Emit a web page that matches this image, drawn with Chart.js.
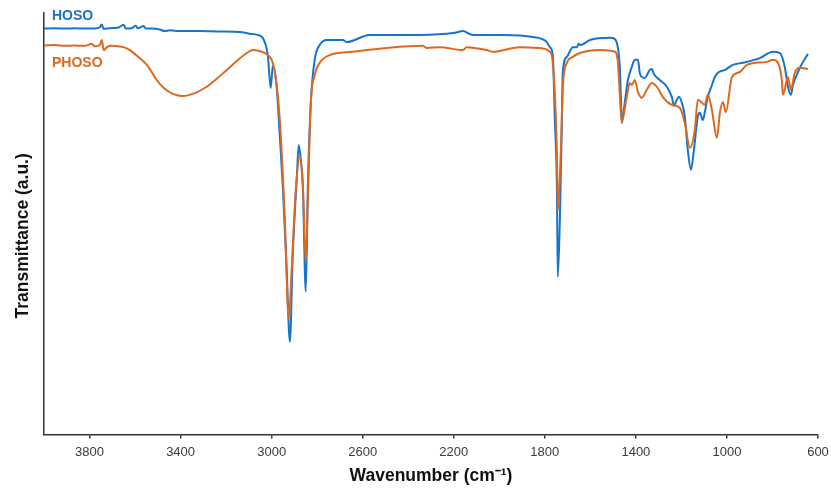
<!DOCTYPE html>
<html>
<head>
<meta charset="utf-8">
<script src="https://cdn.jsdelivr.net/npm/chart.js@4"></script>
<style>
  html, body { margin: 0; padding: 0; background: #fff; }
  #wrap { width: 831px; height: 489px; }
</style>
</head>
<body>
<div id="wrap"><canvas id="ftir"></canvas></div>
<script>
// wavenumber ticks
const xTicks = [3800, 3400, 3000, 2600, 2200, 1800, 1400, 1000, 600];

// HOSO
const hosoWn = [4000, 3953, 3909, 3865, 3821, 3777, 3755, 3746, 3738, 3711, 3676, 3650, 3641, 3615, 3597, 3588, 3562, 3553, 3527, 3492,
  3470, 3448, 3404, 3316, 3228, 3140, 3096, 3061, 3039, 3026, 3017, 3004, 2995, 2978, 2964, 2951, 2934, 2920, 2907, 2890,
  2881, 2872, 2863, 2850, 2841, 2828, 2811, 2789, 2758, 2688, 2670, 2569, 2349, 2195, 2160, 2116, 1985, 1853, 1791, 1778,
  1765, 1756, 1747, 1743, 1734, 1725, 1721, 1703, 1677, 1659, 1651, 1642, 1602, 1514, 1492, 1479, 1470, 1466, 1462, 1449,
  1435, 1418, 1405, 1391, 1383, 1374, 1361, 1339, 1330, 1321, 1295, 1264, 1242, 1233, 1220, 1211, 1198, 1185, 1172, 1158,
  1145, 1128, 1119, 1106, 1097, 1084, 1066, 1053, 1040, 1009, 974, 930, 855, 798, 767, 746, 732, 719, 710, 688, 666, 644];
const hosoT = [96.3, 96.4, 96.3, 96.4, 96.3, 96.3, 96.6, 97.3, 96.2, 96.4, 96.5, 97.2, 96.3, 96.4, 97.0, 96.4, 96.9, 96.3, 96.3, 96.1,
  95.7, 95.9, 95.7, 95.7, 95.6, 95.5, 95.1, 94.8, 94.1, 92.4, 90.0, 82.2, 87.4, 82.5, 70.6, 58.8, 39.1, 22.0, 43.1, 60.4,
  68.7, 65.2, 58.8, 33.9, 58.8, 78.7, 88.9, 92.4, 93.6, 93.6, 93.1, 94.8, 94.8, 95.3, 95.7, 94.8, 94.8, 94.3, 93.1, 91.9,
  90.0, 74.6, 58.8, 37.4, 50.9, 74.6, 86.0, 89.6, 91.9, 91.9, 92.7, 92.4, 93.6, 94.1, 93.8, 91.7, 86.5, 80.1, 73.9, 78.7,
  84.1, 87.2, 88.9, 88.9, 85.8, 84.8, 84.6, 86.5, 86.7, 85.5, 84.1, 82.5, 80.1, 78.0, 79.4, 80.1, 78.7, 75.4, 67.5, 62.8,
  67.5, 75.4, 76.3, 74.6, 76.5, 80.1, 82.9, 84.8, 85.8, 86.5, 87.7, 88.2, 89.3, 90.8, 90.5, 87.2, 82.5, 80.6, 82.9, 86.0, 88.4, 90.3];

// PHOSO
const phosoWn = [4000, 3953, 3909, 3865, 3821, 3790, 3777, 3755, 3746, 3738, 3724, 3703, 3676, 3650, 3623, 3580, 3544, 3505, 3470, 3434,
  3391, 3338, 3285, 3241, 3197, 3153, 3109, 3083, 3043, 3017, 2995, 2978, 2964, 2942, 2925, 2912, 2894, 2876, 2863, 2850,
  2841, 2828, 2811, 2789, 2745, 2644, 2494, 2336, 2318, 2261, 2160, 2143, 2055, 2028, 1910, 1822, 1778, 1765, 1747, 1743,
  1730, 1721, 1703, 1677, 1646, 1558, 1492, 1479, 1466, 1462, 1440, 1427, 1418, 1405, 1391, 1374, 1352, 1330, 1304, 1282,
  1242, 1207, 1185, 1163, 1141, 1128, 1110, 1097, 1084, 1066, 1044, 1031, 1018, 1005, 978, 943, 912, 825, 798, 776,
  759, 754, 737, 732, 719, 702, 680, 644];
const phosoT = [92.3, 92.4, 92.2, 92.3, 92.2, 92.7, 92.1, 92.4, 93.6, 91.2, 91.9, 92.2, 92.1, 91.9, 91.2, 89.3, 87.4, 84.1, 82.0, 80.8,
  80.3, 81.0, 82.5, 84.4, 86.5, 88.6, 90.5, 91.2, 90.8, 90.0, 88.2, 82.9, 74.6, 50.9, 27.3, 39.1, 58.1, 65.9, 59.2, 40.8,
  55.7, 78.7, 85.3, 88.2, 90.0, 90.8, 91.7, 92.2, 91.7, 91.9, 91.2, 91.9, 91.2, 90.8, 91.9, 91.7, 90.8, 88.2, 66.8, 53.3,
  66.8, 82.5, 88.2, 89.6, 90.5, 91.2, 90.8, 88.2, 76.3, 74.2, 80.1, 83.4, 82.9, 84.1, 81.3, 79.9, 81.8, 83.4, 82.2, 80.1,
  78.2, 77.5, 73.9, 68.0, 72.3, 79.4, 78.7, 78.2, 80.6, 77.0, 70.4, 76.3, 78.9, 76.5, 84.8, 86.0, 87.7, 88.4, 88.9, 88.2,
  84.1, 80.6, 84.1, 84.8, 81.8, 85.8, 87.0, 86.7];

const BLUE = '#1674CB';
const ORANGE = '#DD681E';
const AXIS = '#333333';
const FONT = '"Liberation Sans", Arial, sans-serif';

const toPoints = (xs, ys) => xs.map((x, i) => ({ x: x, y: ys[i] }));

// series names written next to the curves, top left
const seriesLabels = {
  id: 'seriesLabels',
  afterDatasetsDraw(chart) {
    const ctx = chart.ctx;
    const a = chart.chartArea;
    ctx.save();
    ctx.font = 'bold 14px ' + FONT;
    ctx.textBaseline = 'middle';
    ctx.fillStyle = BLUE;
    ctx.fillText('HOSO', a.left + 8, a.top + 3);
    ctx.fillStyle = ORANGE;
    ctx.fillText('PHOSO', a.left + 8, a.top + 50);
    ctx.restore();
  }
};

new Chart(document.getElementById('ftir'), {
  type: 'line',
  data: {
    datasets: [
      { label: 'HOSO', data: toPoints(hosoWn, hosoT), borderColor: BLUE, borderWidth: 2, pointRadius: 0, cubicInterpolationMode: 'monotone', order: 2 },
      { label: 'PHOSO', data: toPoints(phosoWn, phosoT), borderColor: ORANGE, borderWidth: 2, pointRadius: 0, cubicInterpolationMode: 'monotone', order: 1 }
    ]
  },
  plugins: [seriesLabels],
  options: {
    responsive: true,
    maintainAspectRatio: false,
    animation: false,
    layout: { padding: { left: 8, right: 13, top: 13, bottom: 0 } },
    plugins: {
      legend: { display: false },
      tooltip: { enabled: false }
    },
    scales: {
      x: {
        type: 'linear',
        reverse: true,
        min: 600,
        max: 4000,
        afterBuildTicks: (axis) => { axis.ticks = xTicks.map(v => ({ value: v })); },
        afterFit: (axis) => { axis.paddingRight = 0; },
        ticks: {
          color: '#3a3a3a',
          font: { family: FONT, size: 13 },
          padding: 6,
          maxRotation: 0,
          autoSkip: false,
          callback: (v) => String(v)
        },
        grid: { drawOnChartArea: false, drawTicks: true, tickLength: 4, color: AXIS, lineWidth: 1.5 },
        border: { display: true, color: AXIS, width: 1.5 },
        title: {
          display: true,
          text: 'Wavenumber (cm\u207B\u00B9)',
          color: '#111',
          font: { family: FONT, size: 17.5, weight: 'bold' },
          padding: { top: 0, bottom: 2 }
        }
      },
      y: {
        min: 0,
        max: 100,
        ticks: { display: false },
        grid: { drawOnChartArea: false, drawTicks: false },
        border: { display: true, color: AXIS, width: 1.5 },
        title: {
          display: true,
          text: 'Transmittance (a.u.)\u00A0\u00A0\u00A0\u00A0\u00A0',
          color: '#111',
          font: { family: FONT, size: 17.5, weight: 'bold' },
          padding: { top: 5, bottom: 10 }
        }
      }
    }
  }
});
</script>
</body>
</html>
